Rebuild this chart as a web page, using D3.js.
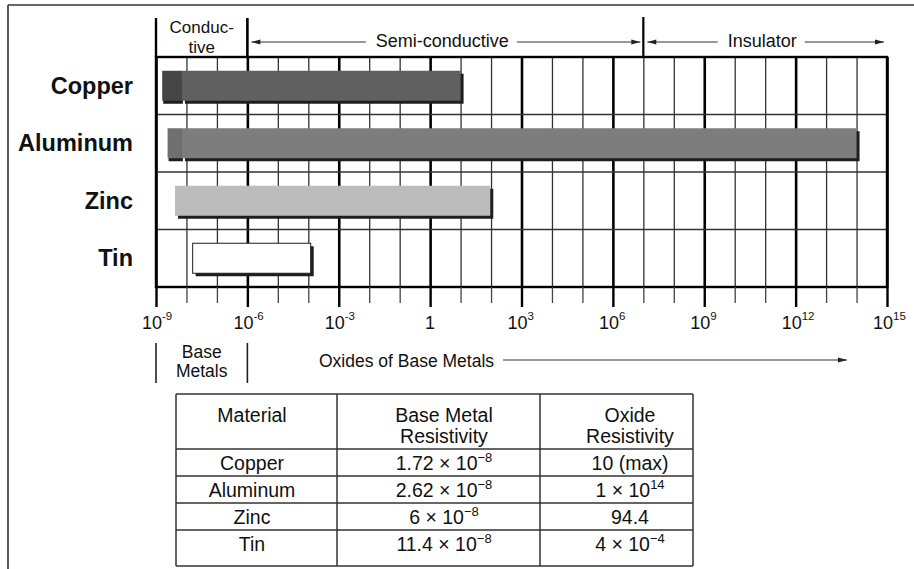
<!DOCTYPE html>
<html>
<head>
<meta charset="utf-8">
<script src="https://cdn.jsdelivr.net/npm/d3@7"></script>
<style>
  body { margin: 0; background: #fff; }
  svg { display: block; font-family: "Liberation Sans", Arial, Helvetica, sans-serif; }
</style>
</head>
<body>
<svg width="914" height="569"></svg>
<script>
// data (resistivity, ohm-cm)
var metals = ["Copper", "Aluminum", "Zinc", "Tin"];
var baseFrom = [1.6e-9, 2.4e-9, null, null];   // darker tab = base metal
var barFrom = [7.1e-9, 7.1e-9, 4.2e-9, 1.6e-8];
var barTo = [10, 1e14, 94.4, 1.2e-4];           // oxide resistivity end
var tickExps = [-9, -6, -3, 0, 3, 6, 9, 12, 15];
var zoneNames = ["Conductive", "Semi-conductive", "Insulator"];
var zoneBounds = [1e-9, 1e-6, 1e7, 1e15];
var tableHead = [["Material"], ["Base Metal", "Resistivity"], ["Oxide", "Resistivity"]];
var baseRes = ["1.72 \u00d7 10^\u22128", "2.62 \u00d7 10^\u22128", "6 \u00d7 10^\u22128", "11.4 \u00d7 10^\u22128"];
var oxideRes = ["10 (max)", "1 \u00d7 10^14", "94.4", "4 \u00d7 10^\u22124"];

// styles
var barFill = { Copper: "#606060", Aluminum: "#7d7d7d", Zinc: "#bcbcbc", Tin: "#ffffff" };
var tabFill = { Copper: "#464646", Aluminum: "#707070" };
var ink = "#1e1e1e";

var svg = d3.select("svg");
var pL = 156, pR = 887, pT = 57, pB = 287;

var x = d3.scaleLog().domain([1e-9, 1e15]).range([pL, pR]);
var y = d3.scaleBand().domain(metals).range([pT, pB]);
var decades = d3.range(-9, 16).map(function(e) { return Math.pow(10, e); });
var isMajor = function(v) { var e = Math.round(Math.log10(v)); return ((e % 3) + 3) % 3 === 0; };

// outer frame
svg.append("line").attr("x1", 8).attr("x2", 914).attr("y1", 5).attr("y2", 5).attr("stroke", "#333").attr("stroke-width", 1.6);
svg.append("line").attr("x1", 8).attr("x2", 8).attr("y1", 5).attr("y2", 569).attr("stroke", "#333").attr("stroke-width", 1.6);

// vertical grid
var grid = svg.append("g").attr("transform", "translate(0," + pB + ")")
  .call(d3.axisBottom(x).tickValues(decades).tickSizeInner(-(pB - pT)).tickSizeOuter(0).tickFormat(""));
grid.select(".domain").remove();
grid.selectAll(".tick line")
  .attr("stroke", function(d) { return isMajor(d) ? "#000" : "#333"; })
  .attr("stroke-width", function(d) { return isMajor(d) ? 2.6 : 1.3; });

// row lines
svg.selectAll(".rowline").data(metals.slice(1)).enter().append("line")
  .attr("x1", pL).attr("x2", pR)
  .attr("y1", function(d) { return y(d); }).attr("y2", function(d) { return y(d); })
  .attr("stroke", "#333").attr("stroke-width", 1.4);

// plot frame
svg.append("rect").attr("x", pL).attr("y", pT).attr("width", pR - pL).attr("height", pB - pT)
  .attr("fill", "none").attr("stroke", "#000").attr("stroke-width", 2.4);

// bars
var bh = 30;
metals.forEach(function(m, i) {
  var by = y(m) + (y.bandwidth() - bh) / 2;
  var x0 = x(barFrom[i]), x1 = x(barTo[i]);
  if (baseFrom[i] != null) {
    svg.append("rect").attr("x", x(baseFrom[i]) + 1).attr("y", by + 3).attr("width", x0 - x(baseFrom[i])).attr("height", bh).attr("fill", ink);
  }
  svg.append("rect").attr("x", x0 + 3).attr("y", by + 3).attr("width", x1 - x0).attr("height", bh).attr("fill", ink);
  if (baseFrom[i] != null) {
    svg.append("rect").attr("x", x(baseFrom[i])).attr("y", by).attr("width", x0 - x(baseFrom[i])).attr("height", bh).attr("fill", tabFill[m]);
  }
  svg.append("rect").attr("x", x0).attr("y", by).attr("width", x1 - x0).attr("height", bh)
    .attr("fill", barFill[m])
    .attr("stroke", m === "Tin" ? ink : "none").attr("stroke-width", 1);
});

// category labels
svg.selectAll(".cat").data(metals).enter().append("text")
  .attr("x", 133).attr("y", function(d) { return y(d) + y.bandwidth() / 2 + 8; })
  .attr("text-anchor", "end").attr("font-size", 23.5).attr("font-weight", "bold").attr("fill", "#111")
  .text(function(d) { return d; });

// bottom ticks
var ticks = svg.append("g").attr("transform", "translate(0," + pB + ")")
  .call(d3.axisBottom(x).tickValues(decades).tickSize(16).tickFormat(""));
ticks.select(".domain").remove();
ticks.selectAll(".tick line")
  .attr("y2", function(d) { return isMajor(d) ? 20 : 16; })
  .attr("stroke", function(d) { return isMajor(d) ? "#000" : "#444"; })
  .attr("stroke-width", function(d) { return isMajor(d) ? 2.4 : 1.3; });

// tick labels
tickExps.forEach(function(e) {
  var tx = x(Math.pow(10, e));
  if (e === 0) {
    svg.append("text").attr("x", tx).attr("y", 329).attr("text-anchor", "middle").attr("font-size", 18).attr("fill", "#111").text("1");
    return;
  }
  var t = svg.append("text").attr("x", tx - 14).attr("y", 329).attr("font-size", 18).attr("fill", "#111");
  t.append("tspan").text("10");
  t.append("tspan").attr("font-size", 11.5).attr("dy", -9).text(e);
});

// arrow helper
function arrow(xa, xb, yy, head) {
  svg.append("line").attr("x1", xa).attr("x2", xb).attr("y1", yy).attr("y2", yy).attr("stroke", "#333").attr("stroke-width", 1.2);
  if (head) {
    var d = xb > xa ? -1 : 1;
    svg.append("path").attr("d", "M" + xb + "," + yy + "L" + (xb + d * 9) + "," + (yy - 2.5) + "L" + (xb + d * 9) + "," + (yy + 2.5) + "Z").attr("fill", "#222");
  }
}

// zone header
svg.append("line").attr("x1", x(zoneBounds[0])).attr("x2", x(zoneBounds[0])).attr("y1", 18).attr("y2", pT).attr("stroke", "#000").attr("stroke-width", 2.4);
svg.append("line").attr("x1", x(zoneBounds[1])).attr("x2", x(zoneBounds[1])).attr("y1", 18).attr("y2", pT).attr("stroke", "#000").attr("stroke-width", 2.6);
svg.append("line").attr("x1", x(zoneBounds[2])).attr("x2", x(zoneBounds[2])).attr("y1", 17).attr("y2", pT).attr("stroke", "#000").attr("stroke-width", 2.2);

var c0 = (x(zoneBounds[0]) + x(zoneBounds[1])) / 2;
svg.append("text").attr("x", c0).attr("y", 33).attr("text-anchor", "middle").attr("font-size", 17).attr("fill", "#111")
  .text(zoneNames[0].slice(0, 6) + "-");
svg.append("text").attr("x", c0).attr("y", 53).attr("text-anchor", "middle").attr("font-size", 17).attr("fill", "#111")
  .text(zoneNames[0].slice(6));

[1, 2].forEach(function(i) {
  var za = x(zoneBounds[i]), zb = x(zoneBounds[i + 1]);
  var cx = (za + zb) / 2 - 3;
  var t = svg.append("text").attr("x", cx).attr("y", 47).attr("text-anchor", "middle").attr("font-size", 18).attr("fill", "#111").text(zoneNames[i]);
  var w = t.node().getComputedTextLength();
  arrow(cx - w / 2 - 10, za + 4, 42, true);
  arrow(cx + w / 2 + 8, zb - 3, 42, true);
});

// base metals / oxides labels under axis
svg.append("line").attr("x1", x(zoneBounds[0])).attr("x2", x(zoneBounds[0])).attr("y1", 343).attr("y2", 383).attr("stroke", "#222").attr("stroke-width", 1.6);
svg.append("line").attr("x1", x(zoneBounds[1])).attr("x2", x(zoneBounds[1])).attr("y1", 343).attr("y2", 383).attr("stroke", "#222").attr("stroke-width", 1.6);
var bt = svg.append("text").attr("text-anchor", "middle").attr("font-size", 17.5).attr("fill", "#111");
bt.append("tspan").attr("x", c0).attr("y", 358).text("Base");
bt.append("tspan").attr("x", c0).attr("y", 377).text("Metals");
var ot = svg.append("text").attr("x", 319).attr("y", 367).attr("font-size", 17.5).attr("fill", "#111").text("Oxides of Base Metals");
arrow(319 + ot.node().getComputedTextLength() + 9, 847, 360, true);

// table
var tl = 176, tr = 693, colX = [tl, 337, 540, tr], textX = [252, 444, 630];
var rowY = [394, 449, 476, 503, 530, 566];
var tg = svg.append("g").attr("stroke", "#333").attr("stroke-width", 1.5);
rowY.forEach(function(yy) { tg.append("line").attr("x1", tl).attr("x2", tr).attr("y1", yy).attr("y2", yy); });
colX.forEach(function(xx) { tg.append("line").attr("x1", xx).attr("x2", xx).attr("y1", rowY[0]).attr("y2", rowY[5]); });

tableHead.forEach(function(lines, c) {
  var t = svg.append("text").attr("text-anchor", "middle").attr("font-size", 19.5).attr("fill", "#111");
  lines.forEach(function(s, k) { t.append("tspan").attr("x", textX[c]).attr("y", 422 + k * 21).text(s); });
});

function cell(str, cx, yy) {
  var parts = str.split("^");
  var t = svg.append("text").attr("x", cx).attr("y", yy).attr("text-anchor", "middle").attr("font-size", 19.5).attr("fill", "#111");
  t.append("tspan").text(parts[0]);
  if (parts[1]) t.append("tspan").attr("font-size", 13).attr("dy", -8).text(parts[1]);
}
metals.forEach(function(m, i) {
  var yy = rowY[i + 1] + 21;
  cell(m, textX[0], yy);
  cell(baseRes[i], textX[1], yy);
  cell(oxideRes[i], textX[2], yy);
});
</script>
</body>
</html>
